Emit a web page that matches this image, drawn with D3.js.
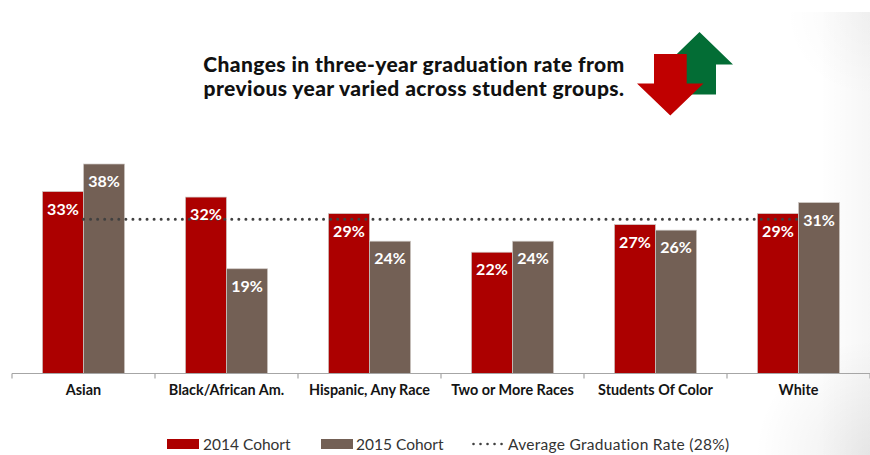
<!DOCTYPE html>
<html>
<head>
<meta charset="utf-8">
<script src="https://cdn.jsdelivr.net/npm/d3@7"></script>
<style>
html,body{margin:0;padding:0;background:#fff;}
svg{display:block;}
</style>
</head>
<body>
<svg id="chart" width="870" height="455"></svg>
<script>
const categories = ["Asian","Black/African Am.","Hispanic, Any Race","Two or More Races","Students Of Color","White"];
const cohort2014 = [33,32,29,22,27,29];
const cohort2015 = [38,19,24,24,26,31];
const averageRate = 28;
const seriesNames = ["2014 Cohort","2015 Cohort"];
const averageName = "Average Graduation Rate (28%)";
const titleLines = ["Changes in three-year graduation rate from","previous year varied across student groups."];

const RED = "#ac0000", BROWN = "#736055", GREY = "#a6a6a6", DOTS = "#404040";
const labelFont = "Lato, Carlito, sans-serif";

const svg = d3.select("#chart");
const defs = svg.append("defs");

// faint shading along the right edge of the slide, deepest in its corners
const edge = defs.append("linearGradient").attr("id","edgeShade");
edge.append("stop").attr("offset","0").attr("stop-color","#000").attr("stop-opacity",0);
edge.append("stop").attr("offset","1").attr("stop-color","#000").attr("stop-opacity",0.035);
const corner = (id,cy,r,a)=>{
  const g = defs.append("radialGradient").attr("id",id).attr("gradientUnits","userSpaceOnUse")
    .attr("cx",870).attr("cy",cy).attr("r",r);
  g.append("stop").attr("offset","0").attr("stop-color","#000").attr("stop-opacity",a);
  g.append("stop").attr("offset","1").attr("stop-color","#000").attr("stop-opacity",0);
};
corner("topShade",12,85,0.03);
corner("bottomShade",455,115,0.07);
svg.append("rect").attr("x",820).attr("y",12).attr("width",50).attr("height",443).attr("fill","url(#edgeShade)");
svg.append("rect").attr("x",770).attr("y",12).attr("width",100).attr("height",100).attr("fill","url(#topShade)");
svg.append("rect").attr("x",740).attr("y",330).attr("width",130).attr("height",125).attr("fill","url(#bottomShade)");

const x = d3.scaleBand().domain(categories).range([12,870]);
const inner = d3.scaleBand().domain([0,1]).range([0,x.bandwidth()]).paddingOuter(0.74).paddingInner(0);
const y = d3.scaleLinear().domain([0,38]).range([373.5,164]);

// bars for each cohort
[cohort2014,cohort2015].forEach((vals,s)=>{
  const g = svg.append("g");
  const fill = s===0?RED:BROWN;
  g.selectAll("rect").data(vals).join("rect")
    .attr("x",(d,i)=>x(categories[i])+inner(s))
    .attr("y",d=>y(d))
    .attr("width",inner.bandwidth())
    .attr("height",d=>y(0)-y(d))
    .attr("fill",fill)
    .attr("stroke","#cfc9c6").attr("stroke-width",0.7);
});

// dotted average line across the group centres
const avgLine = d3.line().x(d=>x(d)+x.bandwidth()/2).y(()=>y(averageRate));
svg.append("path").attr("d",avgLine([categories[0],categories[categories.length-1]]))
  .attr("fill","none").attr("stroke",DOTS).attr("stroke-width",3)
  .attr("stroke-linecap","round").attr("stroke-dasharray","0.01 7.05");

// value labels sit just inside the bar tops
[cohort2014,cohort2015].forEach((vals,s)=>{
  svg.append("g").selectAll("text").data(vals).join("text")
    .attr("x",(d,i)=>x(categories[i])+inner(s)+inner.bandwidth()/2)
    .attr("y",d=>y(d)+23)
    .attr("text-anchor","middle")
    .attr("font-family",labelFont).attr("font-weight",700).attr("font-size",16)
    .attr("fill","#fff")
    .text(d=>d+"%");
});

// category axis
const axis = d3.axisBottom(x).tickSize(0).tickPadding(0);
const ax = svg.append("g").attr("transform",`translate(0,${y(0)})`).call(axis);
ax.select(".domain").attr("stroke",GREY).attr("stroke-width",1.2).attr("d","M12,0H870");
ax.selectAll("text").attr("y",21).attr("dy","0")
  .attr("font-family",labelFont).attr("font-weight",700).attr("font-size",14.4).attr("fill","#141414");
const edges = categories.map(c=>x(c)).concat([870]);
ax.append("g").selectAll("line").data(edges).join("line")
  .attr("x1",d=>d).attr("x2",d=>d).attr("y1",0).attr("y2",5)
  .attr("stroke",GREY).attr("stroke-width",1.2);

// title
svg.append("g").selectAll("text").data(titleLines).join("text")
  .attr("x",414).attr("y",(d,i)=>72+i*24)
  .attr("text-anchor","middle")
  .attr("font-family","Lato, sans-serif").attr("font-weight",900).attr("font-size",21)
  .attr("letter-spacing",0.4)
  .attr("fill","#111").text(d=>d);

// up and down arrows beside the title
const arrowPath = d3.line();
svg.append("path").attr("fill","#036d35")
  .attr("d",arrowPath([[699.5,32],[733,64.5],[716,64.5],[716,94.5],[683,94.5],[683,64.5],[666,64.5]])+"Z");
svg.append("path").attr("fill","#c00000")
  .attr("d",arrowPath([[654,54],[686.7,54],[686.7,83.5],[703.5,83.5],[670.3,115.5],[637,83.5],[654,83.5]])+"Z");

// legend
const legend = svg.append("g").attr("font-family",labelFont).attr("font-size",15.5).attr("fill","#333");
[[167,RED,203],[321,BROWN,356]].forEach(([sx,c,tx],i)=>{
  legend.append("rect").attr("x",sx).attr("y",439).attr("width",32).attr("height",10).attr("fill",c);
  legend.append("text").attr("x",tx).attr("y",449.5).text(seriesNames[i]);
});
legend.append("path").attr("d","M473.5,444H505").attr("stroke",DOTS).attr("stroke-width",2.6)
  .attr("stroke-linecap","round").attr("stroke-dasharray","0.01 7").attr("fill","none");
legend.append("text").attr("x",508).attr("y",449.5).attr("letter-spacing",0.3).text(averageName);
</script>
</body>
</html>
